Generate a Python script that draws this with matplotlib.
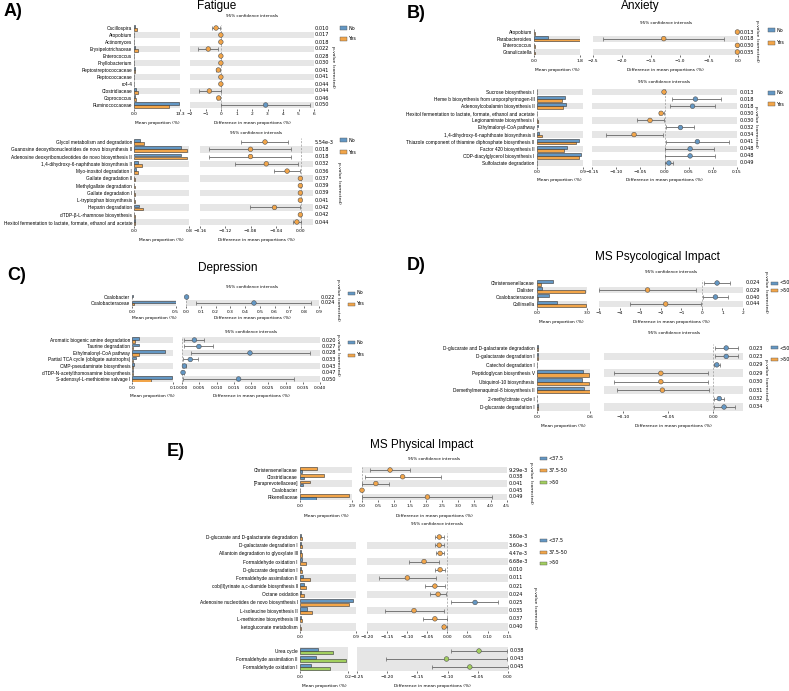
import matplotlib
matplotlib.use('Agg')
import matplotlib.pyplot as plt
from matplotlib.patches import Rectangle

W, H = 789, 691
fig = plt.figure(figsize=(W / 100, H / 100), dpi=100)

BLUE = '#6397c4'
ORANGE = '#f2a549'
GREEN = '#a2cf5f'
SHADE = '#e6e6e6'
EDGE = '#333333'
CAT_FS = 3.4
TICK_FS = 3.2
LAB_FS = 3.2
SANS = 'Liberation Sans'

# ---------------- Panel A (Fatigue) ----------------
A1_cats = ['Oscillospira', 'Atopobium', 'Actinomyces', 'Erysipelotrichaceae', 'Enterococcus',
           'Phyllobacterium', 'Peptostreptococcaceae', 'Peptococcaceae', 'rc4-4', 'Clostridiaceae',
           'Coprococcus', 'Ruminococcaceae']
A1_no = [0.3, 0.005, 0.01, 0.3, 0.01, 0.01, 0.1, 0.01, 0.01, 0.4, 0.2, 13.0]
A1_yes = [0.65, 0.02, 0.02, 1.15, 0.02, 0.02, 0.28, 0.02, 0.02, 1.15, 0.35, 10.2]
A1_diff = [-0.32, -0.01, -0.01, -0.82, -0.01, -0.01, -0.17, -0.01, -0.01, -0.75, -0.15, 2.88]
A1_lo = [-0.58, -0.02, -0.02, -1.48, -0.02, -0.02, -0.30, -0.02, -0.02, -1.42, -0.25, 0.01]
A1_hi = [-0.05, -0.002, -0.002, -0.17, -0.002, -0.002, -0.04, -0.002, -0.002, -0.02, -0.05, 5.74]
A1_p = ['0.010', '0.017', '0.018', '0.022', '0.028', '0.030', '0.041', '0.041', '0.044', '0.044', '0.046', '0.050']

A2_cats = ['Glycol metabolism and degradation',
           'Guanosine deoxyribonucleotides de novo biosynthesis II',
           'Adenosine deoxyribonucleotides de novo biosynthesis II',
           '1,4-dihydroxy-6-naphthoate biosynthesis II',
           'Myo-inositol degradation I', 'Gallate degradation II', 'Methylgallate degradation',
           'Gallate degradation I', 'L-tryptophan biosynthesis', 'Heparin degradation',
           'dTDP-β-L-rhamnose biosynthesis',
           'Hexitol fermentation to lactate, formate, ethanol and acetate']
A2_no = [0.08, 0.68, 0.68, 0.05, 0.03, 0.002, 0.002, 0.002, 0.002, 0.07, 0.002, 0.01]
A2_yes = [0.14, 0.77, 0.77, 0.11, 0.05, 0.003, 0.003, 0.003, 0.003, 0.12, 0.003, 0.012]
A2_diff = [-0.057, -0.080, -0.080, -0.055, -0.022, -0.001, -0.001, -0.001, -0.001, -0.042, -0.001, -0.0066]
A2_lo = [-0.095, -0.145, -0.145, -0.104, -0.042, -0.002, -0.002, -0.002, -0.002, -0.081, -0.002, -0.012]
A2_hi = [-0.020, -0.016, -0.016, -0.005, -0.001, -0.0003, -0.0003, -0.0003, -0.0003, -0.002, -0.0003, 0.0]
A2_p = ['5.54e-3', '0.018', '0.018', '0.032', '0.036', '0.037', '0.039', '0.039', '0.041', '0.042', '0.042', '0.044']

# ---------------- Panel B (Anxiety) ----------------
B1_cats = ['Atopobium', 'Parabacteroides', 'Enterococcus', 'Granulicatella']
B1_no = [0.002, 0.52, 0.002, 0.003]
B1_yes = [0.01, 1.78, 0.01, 0.012]
B1_diff = [-0.01, -1.28, -0.01, -0.01]
B1_lo = [-0.02, -2.32, -0.02, -0.02]
B1_hi = [-0.002, -0.24, -0.002, -0.002]
B1_p = ['0.013', '0.018', '0.030', '0.035']

B2_cats = ['Sucrose biosynthesis I', 'Heme b biosynthesis from uroporphyrinogen-III',
           'Adenosylcobalamin biosynthesis II',
           'Hexitol fermentation to lactate, formate, ethanol and acetate',
           'Legionaminate biosynthesis I', 'Ethylmalonyl-CoA pathway',
           '1,4-dihydroxy-6-naphthoate biosynthesis II',
           'Thiazole component of thiamine diphosphate biosynthesis II',
           'Factor 420 biosynthesis II', 'CDP-diacylglycerol biosynthesis I',
           'Sulfolactate degradation']
B2_no = [0.001, 0.55, 0.58, 0.01, 0.005, 0.03, 0.04, 0.83, 0.59, 0.87, 0.012]
B2_yes = [0.002, 0.49, 0.52, 0.012, 0.03, 0.01, 0.11, 0.76, 0.53, 0.82, 0.004]
B2_diff = [-0.001, 0.064, 0.058, -0.007, -0.030, 0.033, -0.063, 0.068, 0.053, 0.053, 0.009]
B2_lo = [-0.002, 0.015, 0.012, -0.012, -0.056, 0.004, -0.122, 0.003, 0.0005, 0.0005, 0.001]
B2_hi = [0.0, 0.116, 0.104, -0.001, -0.002, 0.062, -0.004, 0.133, 0.103, 0.104, 0.018]
B2_p = ['0.013', '0.018', '0.018', '0.030', '0.030', '0.032', '0.034', '0.041', '0.048', '0.048', '0.049']

# ---------------- Panel C (Depression) ----------------
C1_cats = ['Oxalobacter', 'Oxalobacteraceae']
C1_no = [0.004, 0.5]
C1_yes = [0.0005, 0.018]
C1_diff = [0.004, 0.46]
C1_lo = [0.001, 0.068]
C1_hi = [0.007, 0.845]
C1_p = ['0.022', '0.024']

C2_cats = ['Aromatic biogenic amine degradation', 'Taurine degradation', 'Ethylmalonyl-CoA pathway',
           'Partial TCA cycle (obligate autotrophs)', 'CMP-pseudaminate biosynthesis',
           'dTDP-N-acetylthomosamine biosynthesis', 'S-adenosyl-L-methionine salvage I']
C2_no = [0.017, 0.017, 0.080, 0.009, 0.003, 0.001, 0.098]
C2_yes = [0.0066, 0.001, 0.017, 0.002, 0.001, 0.0005, 0.046]
C2_diff = [0.0036, 0.0049, 0.0197, 0.0024, 0.0007, 0.0003, 0.0164]
C2_lo = [0.0007, 0.0007, 0.0025, 0.0003, 0.0002, 0.0001, 0.0002]
C2_hi = [0.0063, 0.0091, 0.0371, 0.0045, 0.0012, 0.0005, 0.0326]
C2_p = ['0.020', '0.027', '0.028', '0.033', '0.043', '0.047', '0.050']

# ---------------- Panel D (MS Psycological Impact) ----------------
D1_cats = ['Christensenellaceae', 'Dialister', 'Oxalobacteraceae', 'Collinsella']
D1_lt50 = [0.96, 0.3, 0.74, 1.2]
D1_gt50 = [0.26, 2.9, 0.08, 2.96]
D1_diff = [0.74, -2.64, 0.66, -1.76]
D1_lo = [0.11, -4.99, 0.05, -3.48]
D1_hi = [1.36, -0.29, 1.25, -0.05]
D1_p = ['0.024', '0.029', '0.040', '0.044']

D2_cats = ['D-glucarate and D-galactarate degradation', 'D-galactarate degradation I',
           'Catechol degradation I', 'Peptidoglycan biosynthesis V', 'Ubiquinol-10 biosynthesis',
           'Demethylmenaquinol-8 biosynthesis II', '2-methylcitrate cycle I',
           'D-glucarate degradation I']
D2_lt50 = [0.02, 0.02, 0.006, 0.52, 0.51, 0.535, 0.006, 0.02]
D2_gt50 = [0.01, 0.01, 0.002, 0.59, 0.59, 0.60, 0.002, 0.01]
D2_diff = [0.0144, 0.0144, 0.004, -0.058, -0.058, -0.0563, 0.0067, 0.012]
D2_lo = [0.0022, 0.0022, 0.001, -0.110, -0.110, -0.107, 0.0011, 0.0004]
D2_hi = [0.027, 0.027, 0.007, -0.006, -0.006, -0.005, 0.0115, 0.024]
D2_p = ['0.023', '0.023', '0.029', '0.029', '0.030', '0.031', '0.032', '0.034']

# ---------------- Panel E (MS Physical Impact) ----------------
E1_cats = ['Christensenellaceae', 'Clostridiaceae', '[Paraprevotellaceae]', 'Oxalobacter', 'Rikenellaceae']
E1_mid = [0.94, 1.37, 0.56, 0.01, 2.77]
E1_low = [0.10, 0.22, 0.15, 0.002, 0.88]
E1_diff = [0.88, 1.27, 0.44, 0.01, 2.04]
E1_lo = [0.26, 0.11, 0.02, 0.002, 0.02]
E1_hi = [1.50, 2.45, 0.86, 0.02, 4.05]
E1_p = ['9.29e-3', '0.038', '0.041', '0.045', '0.049']

E2_cats = ['D-glucarate and D-galactarate degradation', 'D-galactarate degradation I',
           'Allantoin degradation to glyoxylate III', 'Formaldehyde oxidation I',
           'D-glucarate degradation I', 'Formaldehyde assimilation II',
           'cob(II)yrinate a,c-diamide biosynthesis II', 'Octane oxidation',
           'Adenosine nucleotides de novo biosynthesis I', 'L-isoleucine biosynthesis II',
           'L-methionine biosynthesis III', 'ketogluconate metabolism']
E2_low = [0.015, 0.015, 0.01, 0.037, 0.01, 0.053, 0.06, 0.02, 0.857, 0.107, 0.01, 0.008]
E2_mid = [0.04, 0.04, 0.04, 0.10, 0.035, 0.16, 0.09, 0.064, 0.79, 0.188, 0.04, 0.012]
E2_diff = [-0.020, -0.020, -0.018, -0.058, -0.018, -0.0995, -0.031, -0.023, 0.069, -0.083, -0.031, -0.008]
E2_lo = [-0.031, -0.031, -0.027, -0.096, -0.030, -0.171, -0.055, -0.042, 0.010, -0.156, -0.061, -0.0125]
E2_hi = [-0.008, -0.008, -0.008, -0.020, -0.007, -0.027, -0.006, -0.003, 0.127, -0.0075, -0.0015, -0.0015]
E2_p = ['3.60e-3', '3.60e-3', '4.47e-3', '6.68e-3', '0.010', '0.011', '0.021', '0.024', '0.025',
        '0.035', '0.037', '0.040']

E3_cats = ['Urea cycle', 'Formaldehyde assimilation II', 'Formaldehyde oxidation I']
E3_low = [0.076, 0.065, 0.047]
E3_high = [0.136, 0.19, 0.125]
E3_diff = [-0.0477, -0.1017, -0.063]
E3_lo = [-0.094, -0.202, -0.126]
E3_hi = [-0.0017, -0.0017, 0.0]
E3_p = ['0.038', '0.043', '0.045']


def ax_px(x0, y0, x1, y1):
    return fig.add_axes([x0 / W, 1 - y1 / H, (x1 - x0) / W, (y1 - y0) / H])


def ftext(x, y, s, **kw):
    kw.setdefault('fontsize', LAB_FS)
    kw.setdefault('va', 'center')
    return fig.text(x / W, 1 - y / H, s, **kw)


def fmt_ticks(vals, fmt):
    return [fmt.format(v).replace('-', '\u2212') for v in vals]


def block(cats, series, colors, diff, lo, hi, pvals, y_first, y_last, bar_x, diff_x,
          bar_max, bar_label, diff_lim, diff_ticks, diff_fmt, p_x,
          ci_y=None, xlabel_y=None, shade_all=False):
    n = len(cats)
    sp = (y_last - y_first) / (n - 1) if n > 1 else 7
    top, bot = y_first - sp / 2, y_last + sp / 2
    ys = list(range(n))
    shaded = [i for i in ys if shade_all or (n - 1 - i) % 2 == 0]

    # bar axes
    ab = ax_px(bar_x[0], top, bar_x[1], bot)
    for i in shaded:
        ab.axhspan(i - 0.45, i + 0.45, color=SHADE, lw=0, zorder=0)
    k = len(series)
    h = 0.8 / k
    for j, (vals, col) in enumerate(zip(series, colors)):
        off = -0.4 + h * (j + 0.5)
        ab.barh([y + off for y in ys], vals, height=h * 0.95, color=col,
                edgecolor=EDGE, linewidth=0.4, zorder=2)
    ab.set_xlim(0, bar_max)
    ab.set_ylim(n - 0.5, -0.5)
    ab.set_yticks(ys)
    ab.set_yticklabels(cats, fontsize=CAT_FS, family=SANS)
    ab.set_xticks([0, bar_max])
    ab.set_xticklabels(['0.0', bar_label])
    ab.tick_params(axis='y', length=0, pad=1.5)
    ab.tick_params(axis='x', labelsize=TICK_FS, length=1.5, width=0.4, pad=1.2)
    for s in ab.spines.values():
        s.set_visible(False)

    # difference axes
    ad = ax_px(diff_x[0], top, diff_x[1], bot)
    for i in shaded:
        ad.axhspan(i - 0.45, i + 0.45, color=SHADE, lw=0, zorder=0)
    ad.axvline(0, color='#999999', lw=0.5, ls=(0, (3, 2)), zorder=1)
    xerr = [[d - l for d, l in zip(diff, lo)], [u - d for d, u in zip(diff, hi)]]
    ad.errorbar(diff, ys, xerr=xerr, fmt='none', ecolor='#666666', elinewidth=0.6,
                capsize=1.2, capthick=0.5, zorder=2)
    pcols = [colors[0] if d > 0 else colors[1] for d in diff]
    ad.scatter(diff, ys, s=11, c=pcols, edgecolors='#555555', linewidths=0.4, zorder=3,
               clip_on=False)
    ad.set_xlim(*diff_lim)
    ad.set_ylim(n - 0.5, -0.5)
    ad.set_yticks([])
    ad.set_xticks(diff_ticks)
    ad.set_xticklabels(fmt_ticks(diff_ticks, diff_fmt))
    ad.tick_params(axis='x', labelsize=TICK_FS, length=1.5, width=0.4, pad=1.2)
    for s in ad.spines.values():
        s.set_visible(False)

    for i, p in enumerate(pvals):
        ftext(p_x, y_first + i * sp, p, ha='left', fontsize=3.6)
    if ci_y is not None:
        ftext((diff_x[0] + diff_x[1]) / 2, ci_y, '95% confidence intervals', ha='center',
              fontsize=3.0)
    if xlabel_y is not None:
        ftext((bar_x[0] + bar_x[1]) / 2, xlabel_y, 'Mean proportion (%)', ha='center')
        ftext((diff_x[0] + diff_x[1]) / 2, xlabel_y, 'Difference in mean proportions (%)', ha='center')


def legend(x, ys, labels, colors):
    for y, lab, col in zip(ys, labels, colors):
        fig.patches.append(Rectangle((x / W, 1 - (y + 1.5) / H), 7 / W, 3 / H,
                                     transform=fig.transFigure, facecolor=col,
                                     edgecolor='#555555', lw=0.3))
        ftext(x + 8.5, y, lab, ha='left', fontsize=3.5)


def pv_label(x, y):
    ftext(x, y, 'p-value (corrected)', rotation=270, ha='center', fontsize=3.2)


TITLE_KW = dict(fontsize=8.5, family=SANS, ha='center')
LETTER_KW = dict(fontsize=13, family=SANS, fontweight='bold', ha='left')

# ---- A ----
ftext(4, 11, 'A)', **LETTER_KW)
ftext(217, 6, 'Fatigue', **TITLE_KW)
block(A1_cats, [A1_no, A1_yes], [BLUE, ORANGE], A1_diff, A1_lo, A1_hi, A1_p,
      28, 105, (134.3, 180), (190, 314), 13.3, '13.3', (-2, 6), [-2, -1, 0, 1, 2, 3, 4, 5, 6],
      '{:.0f}', 315, ci_y=16, xlabel_y=123)
legend(340, [28, 39], ['No', 'Yes'], [BLUE, ORANGE])
pv_label(333, 67)
block(A2_cats, [A2_no, A2_yes], [BLUE, ORANGE], A2_diff, A2_lo, A2_hi, A2_p,
      142, 222, (134.3, 189), (200, 313), 0.8, '0.8', (-0.16, 0.019),
      [-0.16, -0.12, -0.08, -0.04, 0.0], '{:.2f}', 315, ci_y=133, xlabel_y=240)
legend(340, [140, 152], ['No', 'Yes'], [BLUE, ORANGE])
pv_label(339, 183)

# ---- B ----
ftext(407, 13, 'B)', **LETTER_KW)
ftext(640, 6.5, 'Anxiety', **TITLE_KW)
block(B1_cats, [B1_no, B1_yes], [BLUE, ORANGE], B1_diff, B1_lo, B1_hi, B1_p,
      32, 52, (534.3, 580.3), (593, 738), 1.8, '1.8', (-2.5, 0.0),
      [-2.5, -2.0, -1.5, -1.0, -0.5, 0.0], '{:.1f}', 740, ci_y=23, xlabel_y=70)
legend(768, [30, 43], ['No', 'Yes'], [BLUE, ORANGE])
pv_label(757, 41)
block(B2_cats, [B2_no, B2_yes], [BLUE, ORANGE], B2_diff, B2_lo, B2_hi, B2_p,
      92, 163, (536.7, 582.7), (592, 737), 0.9, '0.9', (-0.15, 0.15),
      [-0.15, -0.10, -0.05, 0.0, 0.05, 0.10, 0.15], '{:.2f}', 740, ci_y=82, xlabel_y=180)
legend(768, [93, 104], ['No', 'Yes'], [BLUE, ORANGE])
pv_label(756, 127)

# ---- C ----
ftext(7, 275, 'C)', **LETTER_KW)
ftext(228, 268, 'Depression', **TITLE_KW)
block(C1_cats, [C1_no, C1_yes], [BLUE, ORANGE], C1_diff, C1_lo, C1_hi, C1_p,
      297, 303, (132.3, 175.7), (186, 319), 0.5, '0.5', (0.0, 0.9),
      [0.0, 0.1, 0.2, 0.3, 0.4, 0.5, 0.6, 0.7, 0.8, 0.9], '{:.1f}', 321, ci_y=287, xlabel_y=318)
legend(348, [293, 304], ['No', 'Yes'], [BLUE, ORANGE])
pv_label(338, 300)
block(C2_cats, [C2_no, C2_yes], [BLUE, ORANGE], C2_diff, C2_lo, C2_hi, C2_p,
      340, 379, (132.3, 173.3), (182, 320), 0.1, '0.1', (0.0, 0.04),
      [0.0, 0.005, 0.01, 0.015, 0.02, 0.025, 0.03, 0.035, 0.04], '{:.3f}', 322,
      ci_y=332, xlabel_y=396)
legend(348, [343, 355], ['No', 'Yes'], [BLUE, ORANGE])
pv_label(338, 355)

# ---- D ----
ftext(407, 265, 'D)', **LETTER_KW)
ftext(657, 257, 'MS Psycological Impact', **TITLE_KW)
block(D1_cats, [D1_lt50, D1_gt50], [BLUE, ORANGE], D1_diff, D1_lo, D1_hi, D1_p,
      283, 304, (536.7, 586.7), (599, 743), 3.0, '3.0', (-5, 2),
      [-5, -4, -3, -2, -1, 0, 1, 2], '{:.0f}', 746, ci_y=272, xlabel_y=322)
legend(771, [283, 290], ['<50', '>50'], [BLUE, ORANGE])
pv_label(766, 292)
block(D2_cats, [D2_lt50, D2_gt50], [BLUE, ORANGE], D2_diff, D2_lo, D2_hi, D2_p,
      348, 407, (536.7, 590), (604, 743), 0.6, '0.6', (-0.121, 0.033),
      [-0.10, -0.05, 0.0], '{:.2f}', 749, ci_y=333, xlabel_y=426)
legend(771, [348, 359], ['<50', '>50'], [BLUE, ORANGE])
pv_label(766, 380)

# ---- E ----
ftext(167, 452, 'E)', **LETTER_KW)
ftext(422, 445, 'MS Physical Impact', **TITLE_KW)
block(E1_cats, [E1_mid, E1_low], [ORANGE, BLUE], E1_diff, E1_lo, E1_hi, E1_p,
      470, 497, (300, 351.7), (361.7, 506.7), 2.9, '2.9', (0.0, 4.5),
      [0.0, 0.5, 1.0, 1.5, 2.0, 2.5, 3.0, 3.5, 4.0, 4.5], '{:.1f}', 509, ci_y=459, xlabel_y=516)
legend(540, [458, 470, 482], ['<37.5', '37.5-50', '>50'], [BLUE, ORANGE, GREEN])
pv_label(531, 483)
block(E2_cats, [E2_low, E2_mid], [BLUE, ORANGE], E2_diff, E2_lo, E2_hi, E2_p,
      537, 627, (300, 356), (367, 507.6), 0.9, '0.9', (-0.20, 0.15),
      [-0.20, -0.15, -0.10, -0.05, 0.0, 0.05, 0.10, 0.15], '{:.2f}', 509, ci_y=524)
legend(540, [540, 552, 563], ['<37.5', '37.5-50', '>50'], [BLUE, ORANGE, GREEN])
pv_label(535, 608)
block(E3_cats, [E3_low, E3_high], [BLUE, GREEN], E3_diff, E3_lo, E3_hi, E3_p,
      651, 667, (300, 348), (357.3, 507.7), 0.2, '0.2', (-0.25, 0.0),
      [-0.25, -0.20, -0.15, -0.10, -0.05, 0.0], '{:.2f}', 510, xlabel_y=686, shade_all=True)

fig.savefig('out.png', dpi=100)
